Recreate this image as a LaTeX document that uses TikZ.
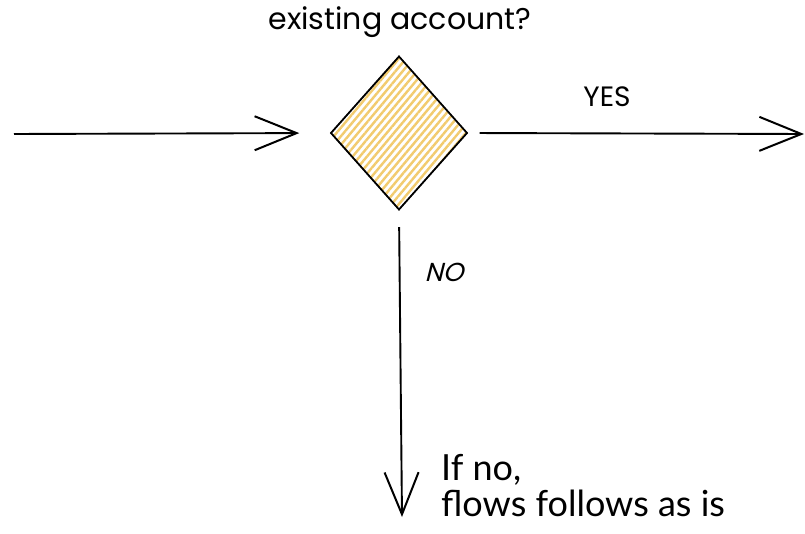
\documentclass[tikz,border=0pt]{standalone}
\usepackage{fontspec}
\newfontfamily\handfont{Poppins}
\newfontfamily\handslant[FakeSlant=0.25]{Poppins}
\newfontfamily\notefont{Lato}
\usetikzlibrary{arrows.meta}
\usetikzlibrary{shapes.geometric}
\usetikzlibrary{patterns.meta}
\definecolor{hachure}{HTML}{F2CB6E}
\tikzset{
  flow/.style={line width=1.9pt,-{Straight Barb[length=42pt,width=34pt,line width=2pt]}},
  decision/.style={diamond,draw,line width=1.8pt,minimum width=137pt,minimum height=154pt,
    inner sep=0pt,preaction={fill=white},
    pattern={Lines[angle=50,distance=5.5pt,line width=2.4pt]},pattern color=hachure},
  handlabel/.style={font=\handfont\fontsize{28}{30}\selectfont}
}

\begin{document}
\begin{tikzpicture}[x=1pt,y=-1pt]
\useasboundingbox (0,0) rectangle (805,534);
\node[decision] (check) at (399,133) {};
\node[font=\handfont\fontsize{30}{32}\selectfont] (question) at (400,22) {existing account?};
\coordinate (entry) at (14,134);
\coordinate (yesend) at (804,134);
\coordinate (noend) at (402,517);
\draw[flow,shorten >=30pt] (entry) -- (check.west);
\draw[flow,shorten <=11pt] (check.east) -- (yesend);
\draw[flow,shorten <=16pt] (check.south) -- (noend);
\node[handlabel] (yes) at (607,97) {YES};
\node[font=\handslant\fontsize{26}{28}\selectfont] (no) at (444,272) {NO};
\node[anchor=north west,align=left,inner sep=0pt,
  font=\notefont\fontsize{36}{36}\selectfont] (note) at (441,454) {If no,\\flows follows as is};
\end{tikzpicture}
\end{document}
